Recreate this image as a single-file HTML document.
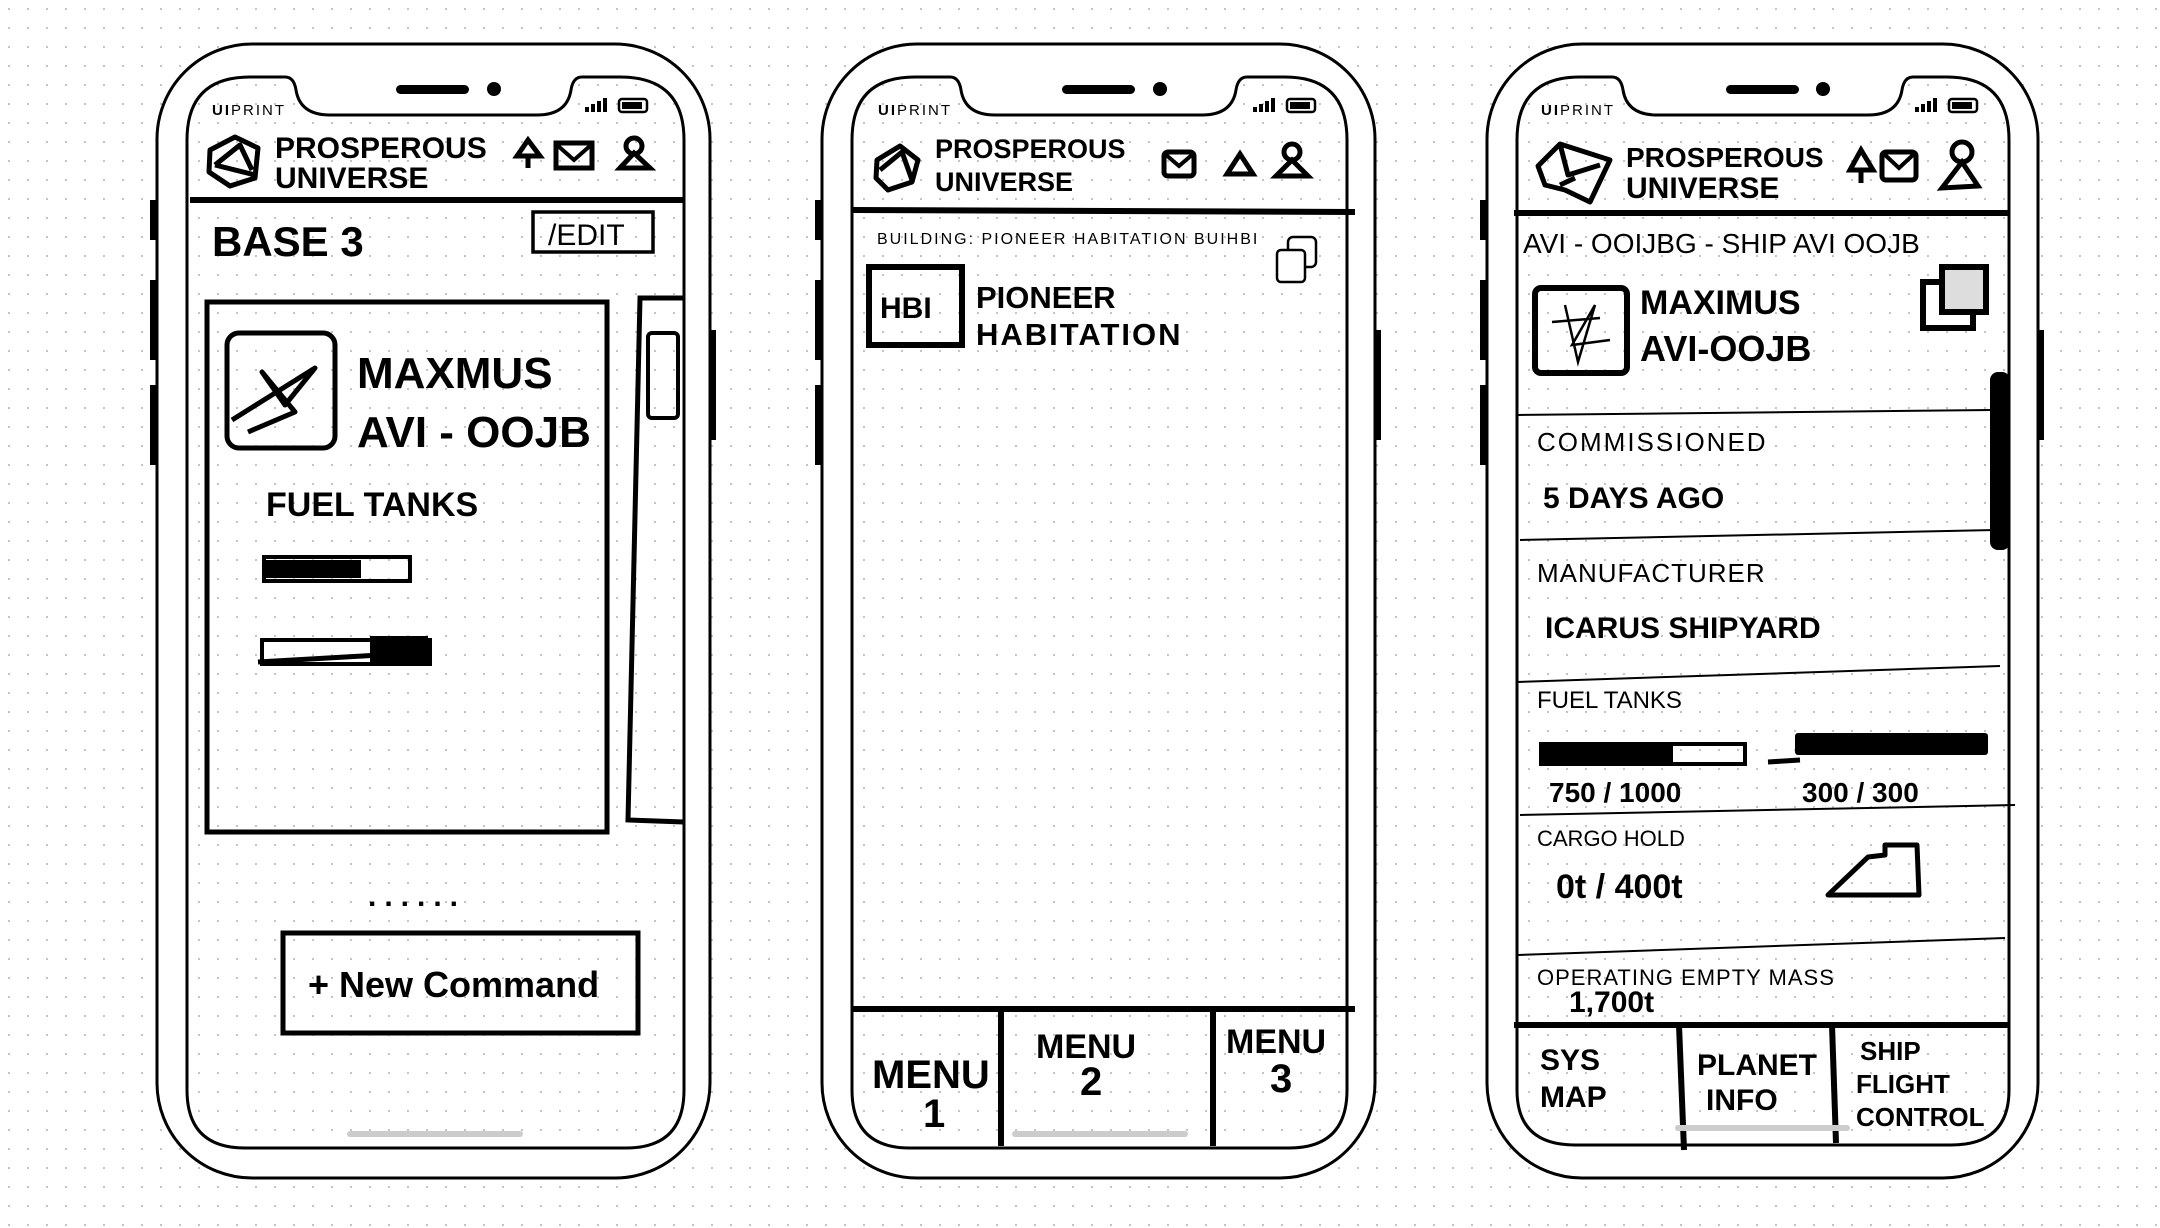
<!DOCTYPE html>
<html><head><meta charset="utf-8"><style>
html,body{margin:0;padding:0;background:#fff;}
svg{display:block;}
text{font-family:"Liberation Sans",sans-serif;fill:#000;}
.h{font-weight:bold;}
</style></head><body>
<svg width="2160" height="1228" viewBox="0 0 2160 1228" xmlns="http://www.w3.org/2000/svg">
<defs>
<pattern id="dots" width="19" height="19" patternUnits="userSpaceOnUse">
<circle cx="9" cy="9" r="1.1" fill="#bdbdbd"/>
</pattern>
</defs>
<rect width="2160" height="1228" fill="#fff"/>
<rect width="2160" height="1228" fill="url(#dots)"/>

<!-- ============ PHONE 1 ============ -->
<g>
<rect x="157" y="44" width="553" height="1134" rx="95" fill="#fff" stroke="#000" stroke-width="3"/>
<rect x="150" y="200" width="7" height="40" fill="#000"/>
<rect x="150" y="280" width="7" height="80" fill="#000"/>
<rect x="150" y="385" width="7" height="80" fill="#000"/>
<rect x="710" y="330" width="6" height="110" fill="#000"/>
<path d="M187 140 Q187 77 250 77 L285 77 Q294 77 296 90 Q300 115 330 115 L537 115 Q567 115 571 90 Q573 77 582 77 L620 77 Q684 77 684 140 L684 1090 Q684 1148 626 1148 L245 1148 Q187 1148 187 1090 Z" fill="url(#dots)" stroke="#000" stroke-width="3"/>
<rect x="396" y="85" width="73" height="9" rx="4.5" fill="#000"/>
<circle cx="494" cy="89" r="7" fill="#000"/>
<text x="212" y="115" font-size="15" letter-spacing="2"><tspan font-weight="bold">UI</tspan>PRINT</text>
<g fill="#000"><rect x="585" y="107" width="4" height="5"/><rect x="591" y="104" width="4" height="8"/><rect x="597" y="101" width="4" height="11"/><rect x="603" y="98" width="4" height="14"/></g>
<rect x="619" y="99" width="28" height="13" rx="3" fill="none" stroke="#000" stroke-width="2.5"/><rect x="622" y="102" width="20" height="7" fill="#000"/>
<path d="M210 150 L235 137 L258 148 L255 178 L230 186 L209 172 Z M215 165 L240 145 L252 170 M215 165 L255 175" fill="none" stroke="#000" stroke-width="5" stroke-linejoin="round"/>
<text x="275" y="158" class="h" font-size="30">PROSPEROUS</text>
<text x="275" y="188" class="h" font-size="30">UNIVERSE</text>
<path d="M517 156 L528 140 L540 156 Z M528 156 L528 168" fill="none" stroke="#000" stroke-width="5"/>
<rect x="556" y="143" width="36" height="25" fill="none" stroke="#000" stroke-width="5"/><path d="M557 145 L574 160 L591 145" fill="none" stroke="#000" stroke-width="4"/>
<circle cx="634" cy="146" r="8" fill="none" stroke="#000" stroke-width="5"/><path d="M620 168 L634 153 L650 168 Z" fill="none" stroke="#000" stroke-width="5"/>
<line x1="190" y1="200" x2="684" y2="200" stroke="#000" stroke-width="6"/>
<text x="212" y="256" class="h" font-size="42">BASE 3</text>
<rect x="533" y="212" width="120" height="40" fill="none" stroke="#000" stroke-width="3.5"/>
<text x="548" y="245" font-size="30">/EDIT</text>
<rect x="207" y="302" width="400" height="530" fill="none" stroke="#000" stroke-width="5"/>
<path d="M684 298 L640 298 L628 820 L684 822" fill="none" stroke="#000" stroke-width="5"/>
<rect x="648" y="333" width="30" height="85" rx="4" fill="none" stroke="#000" stroke-width="4"/>
<rect x="227" y="333" width="108" height="115" rx="12" fill="none" stroke="#000" stroke-width="5"/>
<path d="M232 420 L315 368 L285 405 L262 372 L295 412 L248 432" fill="none" stroke="#000" stroke-width="5" stroke-linejoin="round"/>
<text x="357" y="388" class="h" font-size="44">MAXMUS</text>
<text x="357" y="447" class="h" font-size="44">AVI - OOJB</text>
<text x="266" y="516" class="h" font-size="34">FUEL TANKS</text>
<rect x="264" y="557" width="146" height="24" fill="none" stroke="#000" stroke-width="4"/>
<rect x="266" y="560" width="95" height="18" fill="#000"/>
<rect x="262" y="640" width="168" height="24" fill="none" stroke="#000" stroke-width="4"/>
<rect x="370" y="636" width="58" height="28" fill="#000"/>
<line x1="258" y1="662" x2="380" y2="655" stroke="#000" stroke-width="5"/>
<text x="368" y="906" class="h" font-size="30" letter-spacing="8">......</text>
<rect x="283" y="933" width="355" height="100" fill="none" stroke="#000" stroke-width="5"/>
<text x="308" y="997" class="h" font-size="36">+ New Command</text>
<rect x="347" y="1131" width="176" height="6" rx="3" fill="#ccc"/>
</g>

<!-- ============ PHONE 2 ============ -->
<g>
<rect x="822" y="44" width="553" height="1134" rx="95" fill="#fff" stroke="#000" stroke-width="3"/>
<rect x="815" y="200" width="7" height="40" fill="#000"/>
<rect x="815" y="280" width="7" height="80" fill="#000"/>
<rect x="815" y="385" width="7" height="80" fill="#000"/>
<rect x="1375" y="330" width="6" height="110" fill="#000"/>
<path d="M852 140 Q852 77 915 77 L950 77 Q959 77 961 90 Q965 115 995 115 L1202 115 Q1232 115 1236 90 Q1238 77 1247 77 L1285 77 Q1347 77 1347 140 L1347 1090 Q1347 1148 1289 1148 L910 1148 Q852 1148 852 1090 Z" fill="url(#dots)" stroke="#000" stroke-width="3"/>
<rect x="1062" y="85" width="73" height="9" rx="4.5" fill="#000"/>
<circle cx="1160" cy="89" r="7" fill="#000"/>
<text x="878" y="115" font-size="15" letter-spacing="2"><tspan font-weight="bold">UI</tspan>PRINT</text>
<g fill="#000"><rect x="1253" y="107" width="4" height="5"/><rect x="1259" y="104" width="4" height="8"/><rect x="1265" y="101" width="4" height="11"/><rect x="1271" y="98" width="4" height="14"/></g>
<rect x="1287" y="99" width="28" height="13" rx="3" fill="none" stroke="#000" stroke-width="2.5"/><rect x="1290" y="102" width="20" height="7" fill="#000"/>
<path d="M877 160 L900 146 L918 160 L912 182 L888 190 L876 178 Z M880 170 L902 152 L912 180" fill="none" stroke="#000" stroke-width="5" stroke-linejoin="round"/>
<text x="935" y="158" class="h" font-size="27">PROSPEROUS</text>
<text x="935" y="191" class="h" font-size="27">UNIVERSE</text>
<rect x="1164" y="152" width="30" height="24" rx="4" fill="none" stroke="#000" stroke-width="5"/><path d="M1165 154 L1179 166 L1193 154" fill="none" stroke="#000" stroke-width="4"/>
<path d="M1227 174 L1240 154 L1253 174 Z" fill="none" stroke="#000" stroke-width="5"/>
<circle cx="1292" cy="152" r="8" fill="none" stroke="#000" stroke-width="5"/><path d="M1276 176 L1292 160 L1308 176 Z" fill="none" stroke="#000" stroke-width="5"/>
<line x1="852" y1="210" x2="1355" y2="212" stroke="#000" stroke-width="6"/>
<text x="877" y="244" font-size="16" letter-spacing="2">BUILDING: PIONEER HABITATION BUIHBI</text>
<rect x="1288" y="237" width="28" height="30" rx="5" fill="none" stroke="#000" stroke-width="2.5"/>
<rect x="1277" y="250" width="28" height="32" rx="4" fill="#fff" stroke="#000" stroke-width="2.5"/>
<rect x="869" y="267" width="93" height="78" fill="none" stroke="#000" stroke-width="6"/>
<text x="880" y="318" class="h" font-size="30">HBI</text>
<text x="976" y="308" class="h" font-size="31">PIONEER</text>
<text x="976" y="345" class="h" font-size="31" letter-spacing="2">HABITATION</text>
<line x1="852" y1="1009" x2="1355" y2="1009" stroke="#000" stroke-width="6"/>
<line x1="1001" y1="1009" x2="1001" y2="1146" stroke="#000" stroke-width="6"/>
<line x1="1213" y1="1009" x2="1213" y2="1146" stroke="#000" stroke-width="6"/>
<text x="872" y="1088" class="h" font-size="40">MENU</text>
<text x="923" y="1127" class="h" font-size="40">1</text>
<text x="1036" y="1058" class="h" font-size="34">MENU</text>
<text x="1080" y="1095" class="h" font-size="40">2</text>
<text x="1226" y="1053" class="h" font-size="34">MENU</text>
<text x="1270" y="1092" class="h" font-size="40">3</text>
<rect x="1012" y="1131" width="176" height="6" rx="3" fill="#ccc"/>
</g>

<!-- ============ PHONE 3 ============ -->
<g>
<rect x="1487" y="44" width="551" height="1134" rx="95" fill="#fff" stroke="#000" stroke-width="3"/>
<rect x="1480" y="200" width="7" height="40" fill="#000"/>
<rect x="1480" y="280" width="7" height="80" fill="#000"/>
<rect x="1480" y="385" width="7" height="80" fill="#000"/>
<rect x="2038" y="330" width="6" height="110" fill="#000"/>
<path d="M1517 140 Q1517 77 1580 77 L1612 77 Q1621 77 1623 90 Q1627 115 1657 115 L1868 115 Q1898 115 1902 90 Q1904 77 1913 77 L1947 77 Q2009 77 2009 140 L2009 1090 Q2009 1145 1951 1145 L1575 1145 Q1517 1145 1517 1090 Z" fill="url(#dots)" stroke="#000" stroke-width="3"/>
<rect x="1726" y="85" width="73" height="9" rx="4.5" fill="#000"/>
<circle cx="1823" cy="89" r="7" fill="#000"/>
<text x="1541" y="115" font-size="15" letter-spacing="2"><tspan font-weight="bold">UI</tspan>PRINT</text>
<g fill="#000"><rect x="1915" y="107" width="4" height="5"/><rect x="1921" y="104" width="4" height="8"/><rect x="1927" y="101" width="4" height="11"/><rect x="1933" y="98" width="4" height="14"/></g>
<rect x="1949" y="99" width="28" height="13" rx="3" fill="none" stroke="#000" stroke-width="2.5"/><rect x="1952" y="102" width="20" height="7" fill="#000"/>
<path d="M1538 166 L1560 144 L1610 160 L1590 202 L1565 190 L1545 185 Z M1560 144 L1568 175 L1600 165 M1560 185 L1575 178" fill="none" stroke="#000" stroke-width="5" stroke-linejoin="round"/>
<text x="1626" y="167" class="h" font-size="28">PROSPEROUS</text>
<text x="1626" y="198" class="h" font-size="30">UNIVERSE</text>
<path d="M1850 170 L1861 150 L1873 170 Z M1861 170 L1861 183" fill="none" stroke="#000" stroke-width="5"/>
<rect x="1882" y="152" width="34" height="28" rx="4" fill="none" stroke="#000" stroke-width="5"/><path d="M1884 154 L1899 168 L1914 154" fill="none" stroke="#000" stroke-width="4"/>
<circle cx="1962" cy="152" r="10" fill="none" stroke="#000" stroke-width="5"/><path d="M1942 188 L1962 162 L1978 186 Z" fill="none" stroke="#000" stroke-width="5"/>
<line x1="1514" y1="213" x2="2010" y2="213" stroke="#000" stroke-width="6"/>
<text x="1523" y="253" font-size="28">AVI - OOIJBG - SHIP AVI OOJB</text>
<rect x="1535" y="288" width="92" height="85" rx="6" fill="none" stroke="#000" stroke-width="6"/>
<path d="M1552 322 L1600 318 M1565 305 L1578 362 L1595 305 L1572 345 L1610 340" fill="none" stroke="#000" stroke-width="2.5"/>
<text x="1640" y="314" class="h" font-size="34">MAXIMUS</text>
<text x="1640" y="361" class="h" font-size="36">AVI-OOJB</text>
<rect x="1923" y="282" width="50" height="46" fill="#fff" stroke="#000" stroke-width="6"/>
<rect x="1942" y="267" width="44" height="45" fill="#ddd" stroke="#000" stroke-width="6"/>
<rect x="1990" y="372" width="20" height="178" rx="8" fill="#000"/>
<line x1="1518" y1="415" x2="1992" y2="410" stroke="#000" stroke-width="2"/>
<text x="1537" y="451" font-size="26" letter-spacing="2">COMMISSIONED</text>
<text x="1543" y="508" class="h" font-size="30">5 DAYS  AGO</text>
<line x1="1520" y1="540" x2="1995" y2="530" stroke="#000" stroke-width="2"/>
<text x="1537" y="582" font-size="26" letter-spacing="1">MANUFACTURER</text>
<text x="1545" y="638" class="h" font-size="30">ICARUS SHIPYARD</text>
<line x1="1517" y1="682" x2="2000" y2="666" stroke="#000" stroke-width="2"/>
<text x="1537" y="708" font-size="24">FUEL TANKS</text>
<rect x="1541" y="744" width="204" height="20" fill="none" stroke="#000" stroke-width="4"/>
<rect x="1541" y="744" width="132" height="22" fill="#000"/>
<rect x="1795" y="733" width="193" height="22" rx="3" fill="#000"/>
<line x1="1768" y1="762" x2="1800" y2="760" stroke="#000" stroke-width="5"/>
<text x="1549" y="802" class="h" font-size="28">750 / 1000</text>
<text x="1802" y="802" class="h" font-size="28">300 / 300</text>
<line x1="1520" y1="815" x2="2015" y2="805" stroke="#000" stroke-width="2"/>
<text x="1537" y="846" font-size="22">CARGO HOLD</text>
<text x="1556" y="898" class="h" font-size="34">0t / 400t</text>
<path d="M1828 895 L1868 857 L1885 855 L1885 845 L1917 845 L1919 895 Z" fill="none" stroke="#000" stroke-width="5" stroke-linejoin="round"/>
<line x1="1518" y1="955" x2="2005" y2="938" stroke="#000" stroke-width="2"/>
<text x="1537" y="985" font-size="22" letter-spacing="1">OPERATING EMPTY MASS</text>
<text x="1569" y="1012" class="h" font-size="30">1,700t</text>
<line x1="1514" y1="1025" x2="2010" y2="1025" stroke="#000" stroke-width="6"/>
<line x1="1679" y1="1025" x2="1684" y2="1150" stroke="#000" stroke-width="6"/>
<line x1="1832" y1="1025" x2="1836" y2="1143" stroke="#000" stroke-width="6"/>
<text x="1540" y="1070" class="h" font-size="30">SYS</text>
<text x="1540" y="1107" class="h" font-size="30">MAP</text>
<text x="1697" y="1075" class="h" font-size="30">PLANET</text>
<text x="1706" y="1110" class="h" font-size="30">INFO</text>
<text x="1860" y="1060" class="h" font-size="26">SHIP</text>
<text x="1856" y="1093" class="h" font-size="26">FLIGHT</text>
<text x="1856" y="1126" class="h" font-size="26">CONTROL</text>
<rect x="1675" y="1125" width="175" height="6" rx="3" fill="#ccc"/>
</g>
</svg>
</body></html>
